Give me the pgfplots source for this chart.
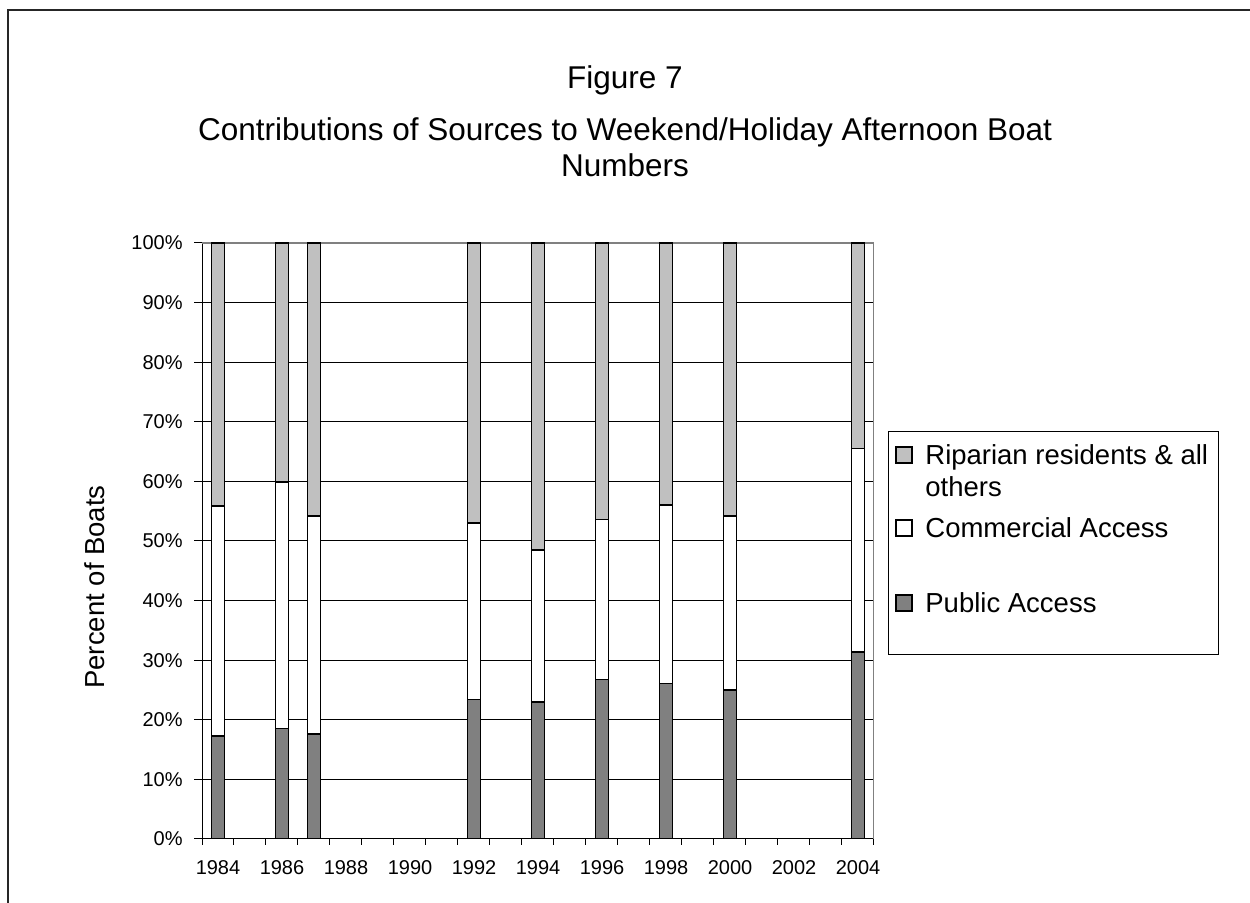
\documentclass[border=0pt]{standalone}
\usepackage{pgfplots}
\usepackage{pgfplotstable}
\pgfplotsset{compat=1.18}
\usepackage{fontspec}
\setmainfont{Liberation Sans}

\definecolor{ripgray}{HTML}{C0C0C0}
\definecolor{pubgray}{HTML}{808080}

% percent of boats by source, stacked bottom to top
\pgfplotstableread{
year public commercial riparian
1984 17.3 38.6 44.1
1986 18.5 41.4 40.1
1987 17.6 36.6 45.8
1992 23.4 29.6 47.0
1994 23.0 25.5 51.5
1996 26.8 26.8 46.4
1998 26.1 29.9 44.0
2000 25.0 29.2 45.8
2004 31.4 34.1 34.5
}\boatdata

\begin{document}
\begin{tikzpicture}[x=1pt,y=1pt]
\useasboundingbox (0,0) rectangle (625,451.5);
% outer chart frame (only top and left visible)
\draw[line width=1pt, black!85] (4,0) -- (4,446.5) -- (625,446.5);

\node[font=\fontsize{15.75}{18}\selectfont, anchor=base] at (312.5,407) {Figure 7};
\node[font=\fontsize{15.75}{18}\selectfont, anchor=base] at (312.5,381) {Contributions of Sources to Weekend/Holiday Afternoon Boat};
\node[font=\fontsize{15.75}{18}\selectfont, anchor=base] at (312.5,363) {Numbers};
\node[font=\fontsize{13.75}{16}\selectfont, rotate=90] at (47.5,158) {Percent of Boats};

\begin{axis}[
    scale only axis,
    width=336pt, height=298pt,
    at={(101pt,32pt)}, anchor=south west,
    ybar stacked, bar width=0.4,
    xmin=1983.5, xmax=2004.5,
    ymin=0, ymax=100,
    xtick={1984,1986,...,2004},
    minor xtick={1983.5,1984.5,...,2004.5},
    major x tick style={draw=none},
    ytick={0,10,...,100},
    tick align=outside,
    xtick pos=bottom, ytick pos=left,
    major tick length=4pt, minor tick length=3pt,
    tick style={black, line width=0.5pt},
    axis x line*=bottom, axis y line*=left,
    axis line style={black, line width=0.5pt},
    ymajorgrids,
    major grid style={black, line width=0.5pt},
    /pgf/number format/assume math mode=true,
    yticklabel={\pgfmathprintnumber{\tick}\%},
    yticklabel style={font=\fontsize{10}{11}\selectfont, inner xsep=5.5pt},
    xticklabel style={font=\fontsize{10}{11}\selectfont, /pgf/number format/1000 sep={}, yshift=-3pt},
    every axis plot/.append style={draw=black, line width=0.75pt},
]
\addplot[fill=pubgray] table[x=year, y=public] {\boatdata};
\addplot[fill=white] table[x=year, y=commercial] {\boatdata};
\addplot[fill=ripgray] table[x=year, y=riparian] {\boatdata};
\draw[pubgray, line width=0.75pt] (rel axis cs:0,1) -- (rel axis cs:1,1) -- (rel axis cs:1,0);
\end{axis}

% legend box
\draw[black, line width=0.5pt] (444,124) rectangle (609,235.5);
\draw[black, line width=0.75pt, fill=ripgray] (448,220) rectangle (456,228);
\draw[black, line width=0.75pt, fill=white] (448,183.5) rectangle (456,191.5);
\draw[black, line width=0.75pt, fill=pubgray] (448,146) rectangle (456,154);
\begin{scope}[every node/.style={font=\fontsize{13.75}{16}\selectfont, anchor=base west, inner sep=0pt}]
\node at (462.5,219) {Riparian residents \& all};
\node at (462.5,203) {others};
\node at (462.5,182.5) {Commercial Access};
\node at (462.5,145) {Public Access};
\end{scope}
\end{tikzpicture}
\end{document}
